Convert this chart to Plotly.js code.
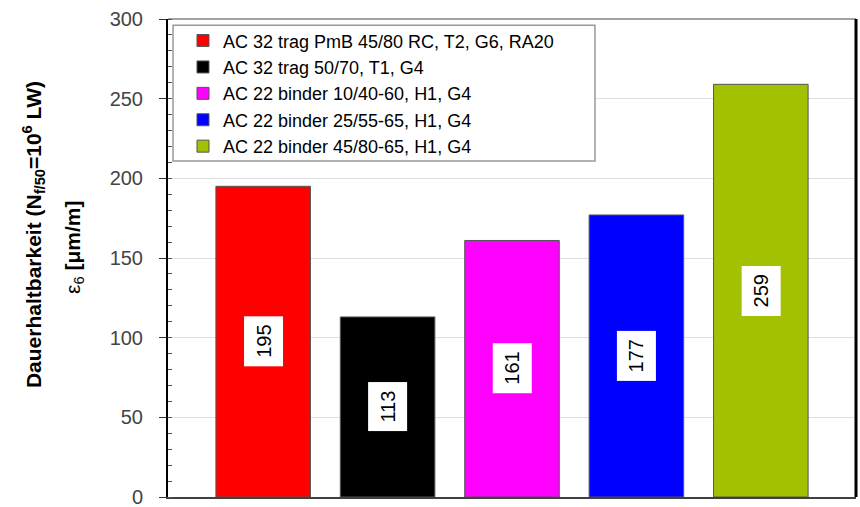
<!DOCTYPE html>
<html>
<head>
<meta charset="utf-8">
<script src="https://cdn.plot.ly/plotly-3.0.1.min.js"></script>
<style>
  html, body { margin: 0; padding: 0; background: #ffffff; }
  #chart { width: 860px; height: 507px; }
</style>
</head>
<body>
<div id="chart"></div>
<script>
// Mixtures (legend entries), one bar each
const mixtures = [
  "AC 32 trag PmB 45/80 RC, T2, G6, RA20",
  "AC 32 trag 50/70, T1, G4",
  "AC 22 binder 10/40-60, H1, G4",
  "AC 22 binder 25/55-65, H1, G4",
  "AC 22 binder 45/80-65, H1, G4"
];
// Fatigue strain ε6 in µm/m
const epsilon6 = [195, 113, 161, 177, 259];
const barColors = ["#ff0000", "#000000", "#ff00ff", "#0000ff", "#a3c100"];
const yTicks = [0, 50, 100, 150, 200, 250, 300];

const FONT = "Liberation Sans, Arial, sans-serif";

const traces = mixtures.map((name, i) => ({
  type: "bar",
  name: name,
  x: [i],
  y: [epsilon6[i]],
  width: 0.76,
  marker: { color: barColors[i], line: { color: "#555555", width: 1 } },
  hoverinfo: "none"
}));

// Value labels in white boxes, rotated, at half bar height
const valueLabels = epsilon6.map((v, i) => ({
  x: i, y: v / 2, xref: "x", yref: "y",
  text: String(v), showarrow: false, textangle: -90,
  bgcolor: "#ffffff", borderpad: 8,
  font: { family: FONT, size: 20, color: "#000000" }
}));

// Two-line y-axis title
const titleLines = [
  {
    x: 0, xref: "paper", xshift: -135, y: 0.548, yref: "paper",
    text: "<b>Dauerhaltbarkeit (N<sub>f/50</sub>=10<sup>6</sup> LW)</b>",
    textangle: -90, showarrow: false, xanchor: "center", yanchor: "middle",
    font: { family: FONT, size: 21, color: "#000000" }
  },
  {
    x: 0, xref: "paper", xshift: -94, y: 0.521, yref: "paper",
    text: "ε<sub>6</sub> <b>[μm/m]</b>",
    textangle: -90, showarrow: false, xanchor: "center", yanchor: "middle",
    font: { family: FONT, size: 21, color: "#000000" }
  }
];

const layout = {
  width: 860, height: 507,
  margin: { l: 168, r: 4, t: 19, b: 10, pad: 0 },
  paper_bgcolor: "#ffffff",
  plot_bgcolor: "#ffffff",
  barmode: "overlay",
  showlegend: true,
  font: { family: FONT },
  xaxis: {
    range: [-0.765, 4.765],
    showticklabels: false, ticks: "",
    showgrid: false, zeroline: false,
    showline: true, linecolor: "#404040", linewidth: 2
  },
  yaxis: {
    range: [0, 300],
    tickvals: yTicks,
    ticktext: yTicks.map(String),
    ticks: "outside", ticklen: 7, tickwidth: 1, tickcolor: "#333333",
    ticklabelstandoff: 12,
    ticklabeloverflow: "allow",
    tickfont: { family: FONT, size: 20, color: "#444444" },
    showgrid: true, gridcolor: "#dedede", gridwidth: 1,
    zeroline: false,
    showline: true, linecolor: "#000000", linewidth: 2,
    minor: { dtick: 10, ticks: "inside", ticklen: 4, tickcolor: "#555555", showgrid: false }
  },
  legend: {
    x: 0.0218, y: 0.993, xanchor: "left", yanchor: "top",
    bgcolor: "rgba(0,0,0,0)", borderwidth: 0,
    font: { family: FONT, size: 18, color: "#000000" },
    itemclick: false, itemdoubleclick: false
  },
  shapes: [
    // legend frame
    { type: "rect", xref: "paper", yref: "paper",
      x0: 0.0073, x1: 0.6206, y0: 0.703, y1: 0.987,
      fillcolor: "#ffffff", line: { color: "#999999", width: 1.5 }, layer: "above" },
    // top border
    { type: "line", xref: "paper", yref: "paper", x0: 0, x1: 1, y0: 1, y1: 1,
      line: { color: "#444444", width: 1 } },
    // right border
    { type: "line", xref: "paper", yref: "paper", x0: 1, x1: 1, y0: 0, y1: 1,
      line: { color: "#000000", width: 3 } }
  ],
  annotations: valueLabels.concat(titleLines)
};

Plotly.newPlot("chart", traces, layout, { displayModeBar: false, staticPlot: true });
</script>
</body>
</html>
